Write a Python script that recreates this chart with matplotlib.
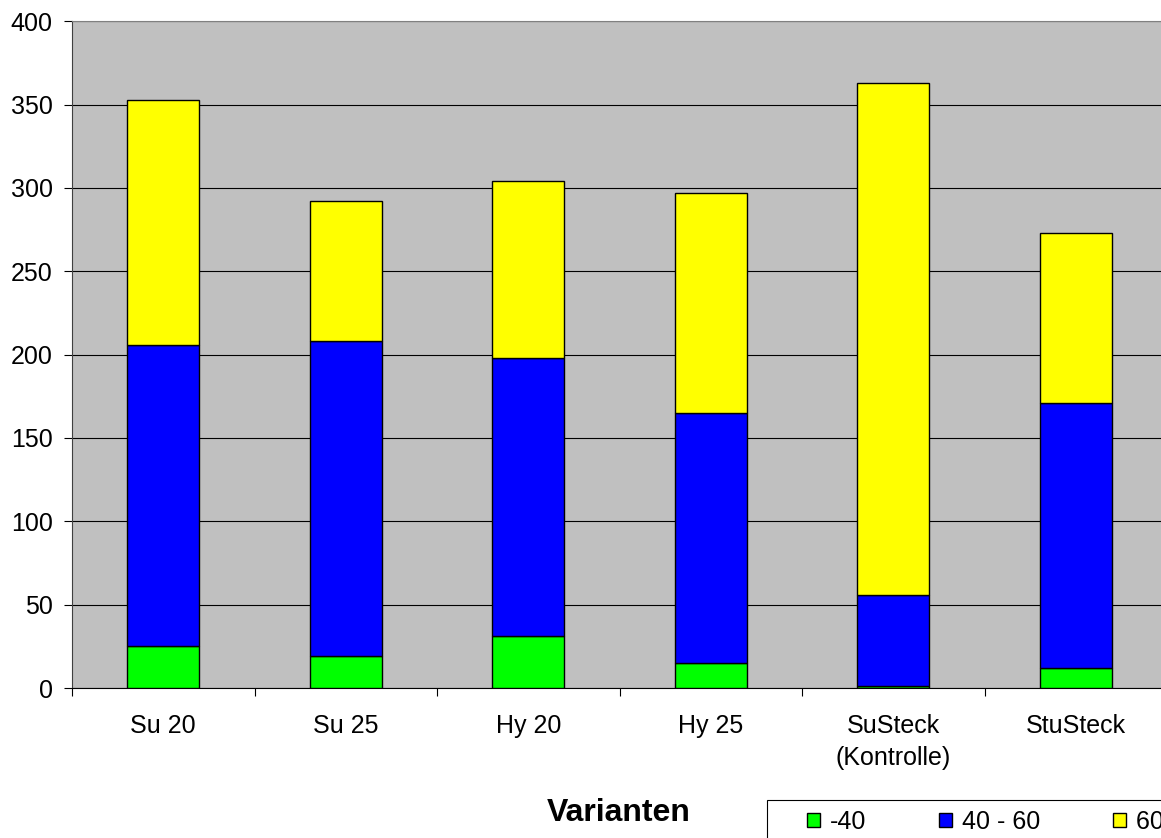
import matplotlib
matplotlib.use("Agg")
import matplotlib.pyplot as plt
from matplotlib.patches import Rectangle
import numpy as np

# data (segment heights, stacked bottom -> top)
varianten = ["Su 20", "Su 25", "Hy 20", "Hy 25", "SuSteck\n(Kontrolle)", "StuSteck"]
klasse_40 = [25, 19, 31, 15, 1, 12]
klasse_40_60 = [181, 189, 167, 150, 55, 159]
klasse_60 = [147, 84, 106, 132, 307, 102]
legend_labels = ["-40", "40 - 60", "60 -"]
y_ticks = [0, 50, 100, 150, 200, 250, 300, 350, 400]

plt.rcParams["font.family"] = ["Liberation Sans", "DejaVu Sans"]

W, H = 1161, 838
fig = plt.figure(figsize=(W / 100, H / 100), dpi=100)
fig.patch.set_facecolor("white")
ax = fig.add_axes([72 / W, 1 - 688 / H, 1095 / W, (688 - 21.3) / H])
ax.set_facecolor("#C0C0C0")

x = np.arange(len(varianten))
w = 0.395
b1 = np.array(klasse_40)
b2 = b1 + np.array(klasse_40_60)
ax.bar(x, klasse_40, w, color="#00FF00", edgecolor="black", linewidth=1.0,
       label=legend_labels[0], zorder=3)
ax.bar(x, klasse_40_60, w, bottom=b1, color="#0000FF", edgecolor="black",
       linewidth=1.0, label=legend_labels[1], zorder=3)
ax.bar(x, klasse_60, w, bottom=b2, color="#FFFF00", edgecolor="black",
       linewidth=1.0, label=legend_labels[2], zorder=3)

ax.set_xlim(-0.5, len(varianten) - 0.5)
ax.set_ylim(0, 400)
ax.set_yticks(y_ticks)
ax.yaxis.grid(True, color="black", linewidth=0.8, zorder=1)
ax.set_axisbelow(True)

ax.set_xticks(x)
ax.set_xticklabels(varianten, fontsize=18, linespacing=1.4)
ax.set_xticks(np.arange(-0.5, len(varianten) + 0.5, 1), minor=True)
ax.tick_params(axis="x", which="major", length=0, pad=19)
ax.tick_params(axis="x", which="minor", length=6, width=0.8, direction="out")
ax.tick_params(axis="y", length=6, width=0.8, direction="out", labelsize=18, pad=8)

ax.spines["right"].set_visible(False)
ax.spines["top"].set_color("#808080")
ax.spines["left"].set_color("#404040")
ax.spines["bottom"].set_color("black")

fig.text(619 / W, 1 - 813 / H, "Varianten", ha="center", va="center",
         fontsize=23, fontweight="bold")

# legend box (runs off the right and bottom edge like the source)
fig.patches.append(Rectangle((767 / W, -0.05), 0.5, 1 - 800 / H + 0.05,
                             transform=fig.transFigure, facecolor="white",
                             edgecolor="black", linewidth=0.8, zorder=1))
leg = fig.legend(loc="center left", bbox_to_anchor=(807 / W, 1 - 822 / H),
                 ncol=3, fontsize=18, frameon=False, handlelength=0.52,
                 handleheight=0.52, handletextpad=0.4, columnspacing=2.9,
                 borderpad=0, borderaxespad=0)
leg.set_zorder(2)

fig.savefig("out.png", dpi=100, facecolor="white")
